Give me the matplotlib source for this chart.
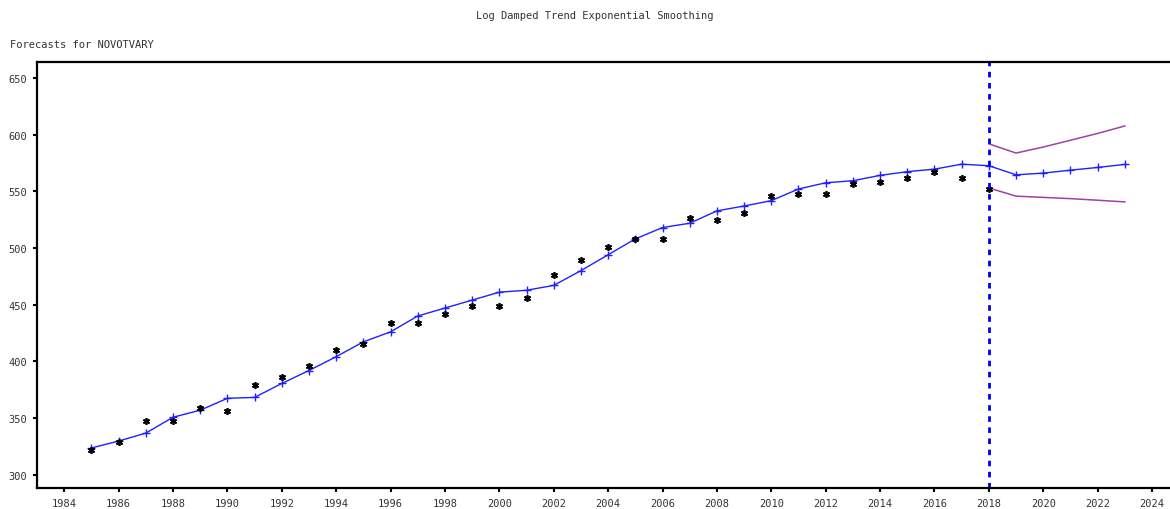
"""Log damped trend exponential smoothing forecast chart for NOVOTVARY."""
import matplotlib
matplotlib.use("Agg")
import matplotlib.pyplot as plt

# observed values (black stars)
years = list(range(1985, 2019))
actual = [322, 329, 347.5, 347.5, 359, 356, 378.7, 386, 396, 410, 415, 434,
          434, 442, 449, 449, 456, 476.5, 489, 500.6, 508, 508, 526, 524.6,
          531, 545.7, 547.3, 547.3, 556.6, 558, 562, 566.8, 562, 552]

# fitted values + forecasts (blue line with + markers)
fit_years = list(range(1985, 2024))
fitted = [323.6, 329.7, 336.7, 350.7, 356.9, 367.4, 368.2, 380.5, 391.9, 404.1,
          417.2, 426, 440, 447, 454, 461, 462.7, 467, 480, 494, 508, 518,
          521.8, 532.7, 537, 541.7, 552, 557.5, 559.3, 564, 567.3, 569.5,
          573.9, 572.5, 564.5, 566, 568.6, 571, 573.7]

# forecast interval (purple)
band_years = [2018, 2019, 2020, 2021, 2022, 2023]
upper = [591.8, 583.7, 589, 595, 601, 607.6]
lower = [552.9, 545.7, 544.6, 543.5, 542.1, 540.6]

forecast_start = 2018

mono = "DejaVu Sans Mono"
text_color = "#333333"

fig = plt.figure(figsize=(11.7, 5.1), dpi=100)
ax = fig.add_axes([37 / 1170, 1 - 489 / 510, 1 - 37 / 1170, (489 - 63) / 510])

ax.plot(band_years, upper, color="#a040a8", lw=1.1)
ax.plot(band_years, lower, color="#a040a8", lw=1.1)
ax.plot(fit_years, fitted, color="#2020ff", lw=1.0, marker="+", ms=6, mew=1.0)
ax.plot(years, actual, ls="none", marker=(6, 2, 0), color="black", ms=5, mew=1.2)
ax.axvline(forecast_start, color="#0000ee", lw=2, ls=(0, (2, 2)))

ax.set_xlim(1983.0, 2024.66)
ax.set_ylim(288.3, 664)
ax.set_xticks(range(1984, 2025, 2))
ax.set_yticks(range(300, 651, 50))

for side in ("left", "top", "bottom"):
    ax.spines[side].set_linewidth(1.6)
ax.spines["right"].set_visible(False)

ax.tick_params(axis="both", length=3, width=1.5, labelsize=7.5,
               labelcolor=text_color, pad=4)
for lbl in ax.get_xticklabels() + ax.get_yticklabels():
    lbl.set_family(mono)

fig.text(595 / 1170, 1 - 16 / 510, "Log Damped Trend Exponential Smoothing",
         ha="center", va="center", family=mono, fontsize=7.5, color=text_color)
fig.text(10 / 1170, 1 - 45 / 510, "Forecasts for NOVOTVARY",
         ha="left", va="center", family=mono, fontsize=7.5, color=text_color)

fig.savefig("out.png", dpi=100)
plt.close(fig)
